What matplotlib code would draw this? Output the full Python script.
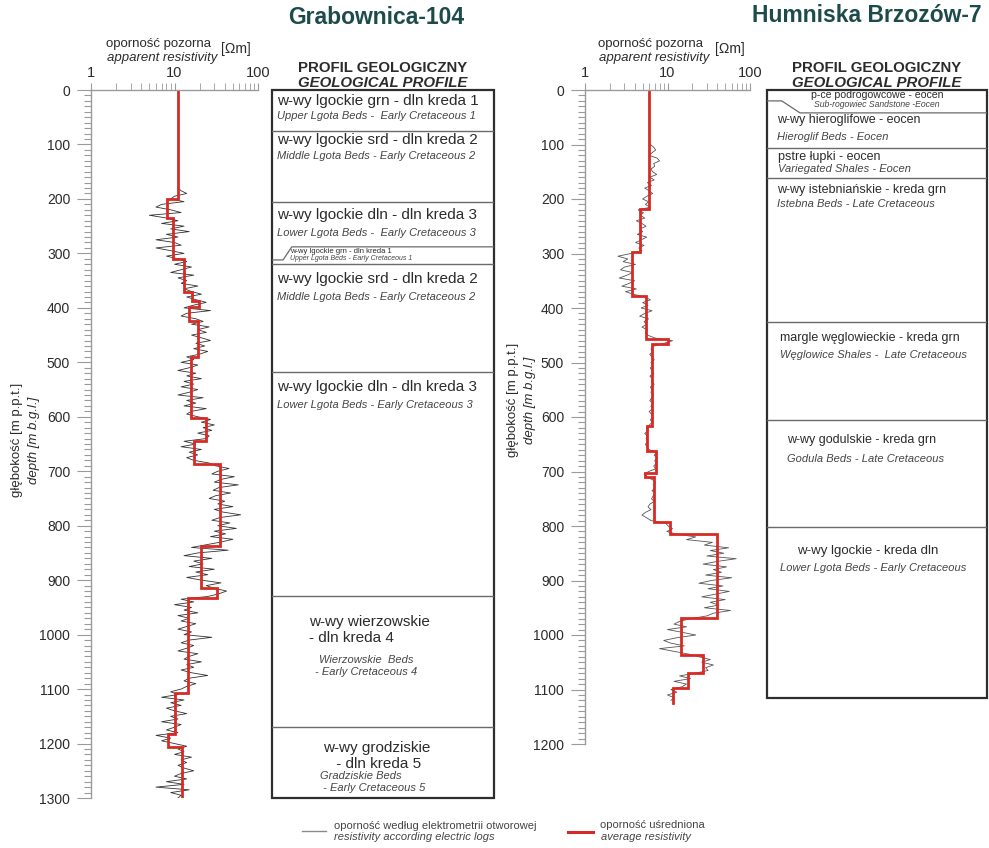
import numpy as np
import matplotlib
matplotlib.use("Agg")
import matplotlib.pyplot as plt
from matplotlib.ticker import LogLocator, NullFormatter, MultipleLocator
from matplotlib.patches import Rectangle

plt.rcParams['font.family'] = ['Liberation Sans', 'DejaVu Sans']

# ---- dane: Grabownica-104 ----
g_depth = np.arange(180, 1301, 5)
g_log = [11, 12, 14, 10, 9, 13, 7, 6, 9, 12,
         5, 8, 11, 7, 13, 9, 15, 8, 11, 6,
         10, 12, 6, 9, 13, 8, 11, 14, 10, 16,
         12, 9, 17, 11, 14, 12, 19, 13, 16, 21,
         14, 18, 24, 17, 13, 27, 14, 12, 18, 22,
         16, 26, 19, 24, 16, 21, 27, 18, 23, 17,
         25, 20, 14, 17, 12, 19, 15, 11, 18, 14,
         21, 13, 17, 12, 19, 15, 11, 22, 14, 18,
         13, 24, 16, 14, 19, 27, 21, 30, 22, 28,
         19, 26, 24, 13, 18, 12, 21, 15, 19, 14,
         17, 26, 31, 45, 33, 28, 52, 36, 30, 58,
         34, 29, 47, 31, 26, 40, 33, 50, 30, 38,
         62, 35, 28, 46, 33, 55, 30, 41, 27, 50,
         36, 24, 16, 44, 19, 13, 28, 17, 22, 15,
         30, 18, 25, 14, 21, 36, 24, 30, 42, 34,
         25, 12, 17, 10, 16, 13, 19, 11, 15, 12,
         18, 14, 11, 16, 13, 28, 15, 12, 17, 14,
         11, 19, 15, 13, 21, 14, 17, 12, 16, 25,
         15, 13, 18, 14, 12, 9, 11, 7, 13, 9,
         12, 8, 10, 14, 9, 11, 7, 12, 10, 8,
         11, 6, 9, 7, 10, 14, 11, 13, 10, 16,
         12, 14, 11, 13, 17, 12, 10, 14, 8, 13,
         6, 15, 9, 12, 11]
g_avg_top = [0, 200, 235, 311, 370, 387, 398, 425, 491, 603, 644, 687,
             837, 915, 932, 1108, 1183, 1206]
g_avg_val = [10.9, 8.2, 9.7, 13.1, 16.3, 19.6, 15.0, 19.1, 15.8, 23.6, 17.3,
             35.0, 20.6, 32.0, 14.6, 10.1, 8.4, 12.2]
g_avg_bottom = 1298
g_bounds = [75, 205, 320, 517, 930, 1169]
g_main = ["w-wy lgockie grn - dln kreda 1", "w-wy lgockie srd - dln kreda 2",
          "w-wy lgockie dln - dln kreda 3", "w-wy lgockie grn - dln kreda 1",
          "w-wy lgockie srd - dln kreda 2", "w-wy lgockie dln - dln kreda 3",
          "w-wy wierzowskie\n- dln kreda 4", "w-wy grodziskie\n - dln kreda 5"]
g_sub = ["Upper Lgota Beds -  Early Cretaceous 1", "Middle Lgota Beds - Early Cretaceous 2",
         "Lower Lgota Beds -  Early Cretaceous 3", "Upper Lgota Beds - Early Cretaceous 1",
         "Middle Lgota Beds - Early Cretaceous 2", "Lower Lgota Beds - Early Cretaceous 3",
         "Wierzowskie  Beds\n- Early Cretaceous 4", "Gradziskie Beds\n - Early Cretaceous 5"]

# ---- dane: Humniska Brzozów-7 ----
h_depth = np.arange(100, 1121, 5)
h_log = [6.2, 6.8, 7.2, 6.5, 6.0, 7.5, 8.0, 6.8, 7.0, 6.3,
         6.6, 7.4, 6.1, 6.9, 5.7, 6.4, 5.3, 6.0, 6.6, 5.6,
         5.0, 5.9, 5.4, 6.2, 4.4, 5.1, 4.7, 5.3, 4.2, 4.9,
         5.5, 4.6, 5.0, 4.3, 5.6, 4.8, 4.1, 5.2, 4.5, 4.9,
         3.6, 2.5, 3.3, 2.9, 4.1, 3.0, 2.7, 3.8, 3.2, 2.6,
         4.0, 3.4, 2.8, 4.2, 3.1, 3.9, 5.4, 6.2, 5.0, 5.8,
         4.8, 6.5, 5.3, 4.6, 5.9, 5.2, 5.6, 4.9, 5.7, 5.4,
         5.8, 7.0, 11.5, 9.0, 6.8, 6.3, 6.6, 6.1, 6.5, 6.9,
         6.3, 6.7, 6.2, 6.5, 6.8, 6.1, 6.6, 6.4, 6.9, 6.2,
         6.5, 6.3, 6.8, 6.4, 6.1, 6.7, 6.3, 6.6, 6.0, 6.4,
         6.7, 6.2, 6.5, 6.0, 5.6, 5.9, 5.3, 5.7, 5.5, 5.8,
         5.4, 5.7, 6.0, 7.4, 6.9, 7.6, 7.0, 7.3, 6.8, 7.2,
         5.9, 5.2, 5.5, 6.6, 7.2, 6.8, 7.1, 6.5, 7.0, 6.7,
         6.4, 6.9, 6.1, 5.8, 6.3, 5.4, 4.9, 5.6, 6.3, 9.5,
         10.2, 11.5, 9.8, 13, 22, 17, 35, 28, 55, 33,
         48, 30, 68, 40, 27, 52, 36, 45, 29, 60,
         34, 24, 47, 31, 56, 38, 26, 50, 33, 42,
         28, 58, 36, 30, 19, 14, 12, 17, 10, 15,
         22, 13, 9, 11, 16, 8, 12, 18, 24, 33,
         26, 36, 29, 31, 22, 14, 19, 12, 17, 15,
         11, 13, 10, 12, 11]
h_avg_top = [0, 219, 298, 378, 456, 466, 617, 662, 702, 711, 792, 815,
             969, 1037, 1070, 1098]
h_avg_val = [6.0, 4.6, 3.7, 5.5, 10.1, 6.4, 5.6, 7.2, 5.3, 6.9, 10.6, 39.7,
             14.6, 27.2, 17.9, 11.6]
h_avg_bottom = 1125
h_bounds = [107, 162, 425, 605, 802]
h_box_bottom = 1115
h_main = ["p-ce podrogowcowe - eocen", "w-wy hieroglifowe - eocen",
          "pstre łupki - eocen", "w-wy istebniańskie - kreda grn",
          "margle węglowieckie - kreda grn", "w-wy godulskie - kreda grn",
          "w-wy lgockie - kreda dln"]
h_sub = ["Sub-rogowiec Sandstone -Eocen", "Hieroglif Beds - Eocen",
         "Variegated Shales - Eocen", "Istebna Beds - Late Cretaceous",
         "Węglowice Shales -  Late Cretaceous", "Godula Beds - Late Cretaceous",
         "Lower Lgota Beds - Early Cretaceous"]

# ---- układ ----
W, H = 989, 848
fig = plt.figure(figsize=(W / 100, H / 100), dpi=100)
TXT = '#2b2b2b'
AX = '#9a9a9a'
TEAL = '#1d4b4c'
RED = '#d82a25'


def rect(x0, y0, x1, y1):
    return [x0 / W, 1 - y1 / H, (x1 - x0) / W, (y1 - y0) / H]


def ftext(x, y, s, **kw):
    fig.text(x / W, 1 - y / H, s, **kw)


def steps(tops, vals, bottom):
    b = list(tops) + [bottom]
    xs, ys = [], []
    for i, v in enumerate(vals):
        xs += [v, v]
        ys += [b[i], b[i + 1]]
    return xs, ys


def log_axes(r, dmax):
    ax = fig.add_axes(r)
    ax.patch.set_alpha(0)
    ax.set_xscale('log')
    ax.set_xlim(1, 100)
    ax.set_ylim(dmax, 0)
    ax.spines['right'].set_visible(False)
    ax.spines['bottom'].set_visible(False)
    for s in ['left', 'top']:
        ax.spines[s].set_color(AX)
        ax.spines[s].set_linewidth(1.0)
    ax.xaxis.tick_top()
    ax.set_xticks([1, 10, 100])
    ax.set_xticklabels(['1', '10', '100'])
    ax.xaxis.set_minor_locator(LogLocator(base=10, subs=range(2, 10)))
    ax.xaxis.set_minor_formatter(NullFormatter())
    ax.tick_params(axis='x', which='major', length=5, color=AX, pad=2,
                   labelsize=10.5, labelcolor=TXT)
    ax.tick_params(axis='x', which='minor', length=5, color=AX)
    ax.set_yticks(np.arange(0, dmax + 1, 100))
    ax.yaxis.set_minor_locator(MultipleLocator(10))
    ax.tick_params(axis='y', which='major', length=10, color=AX, pad=5,
                   labelsize=10, labelcolor=TXT)
    ax.tick_params(axis='y', which='minor', length=5, color=AX, width=0.8)
    return ax


def profile_axes(r, dmax):
    ax = fig.add_axes(r)
    ax.set_xlim(0, 1)
    ax.set_ylim(dmax, 0)
    ax.axis('off')
    return ax


# ---- Grabownica-104 ----
ax1 = log_axes(rect(91, 90, 258, 798), 1300)
ax1.plot(g_log, g_depth, color='#333333', lw=0.6)
xs, ys = steps(g_avg_top, g_avg_val, g_avg_bottom)
ax1.plot(xs, ys, color=RED, lw=2.0, solid_joinstyle='miter')

p1 = profile_axes(rect(272, 90, 494, 798), 1300)
for d in g_bounds:
    p1.plot([0, 1], [d, d], color='#6a6a6a', lw=1.0)
# klin cienkiej warstwy
p1.plot([0, 0.05, 0.089, 1], [312, 312, 288, 288], color='#6a6a6a', lw=0.9)
p1.add_patch(Rectangle((0, 0), 1, 1, transform=p1.transAxes, fill=False,
                       ec='#2e2e2e', lw=1.6, clip_on=False))

g_main_pos = [(0.022, 20, 11), (0.022, 92, 11), (0.022, 229, 11), (0.08, 296, 5.5),
              (0.022, 347, 11), (0.022, 545, 11), (0.165, 992, 11), (0.47, 1223, 11)]
g_sub_pos = [(0.022, 48, 8), (0.022, 121, 8), (0.022, 262, 8), (0.08, 309, 5),
             (0.022, 380, 8), (0.022, 578, 8), (0.425, 1058, 8), (0.216, 1271, 8)]
g_main_ha = ['left'] * 7 + ['center']
g_sub_ha = ['left'] * 6 + ['center', 'left']
for s, (x, y, fs), ha in zip(g_main, g_main_pos, g_main_ha):
    p1.text(x, y, s, fontsize=fs, color=TXT, ha=ha, va='center', multialignment=ha)
for s, (x, y, fs), ha in zip(g_sub, g_sub_pos, g_sub_ha):
    p1.text(x, y, s, fontsize=fs, color='#444444', style='italic', ha=ha,
            va='center', multialignment=ha)

# ---- Humniska Brzozów-7 ----
ax2 = log_axes(rect(585, 90, 750, 744), 1200)
ax2.plot(h_log, h_depth, color='#555555', lw=0.6)
xs, ys = steps(h_avg_top, h_avg_val, h_avg_bottom)
ax2.plot(xs, ys, color=RED, lw=2.0, solid_joinstyle='miter')

p2 = profile_axes(rect(767, 90, 987, 744), 1200)
for d in h_bounds:
    p2.plot([0, 1], [d, d], color='#6a6a6a', lw=1.0)
p2.plot([0, 0.067, 0.15, 1], [20, 20, 42, 42], color='#6a6a6a', lw=0.9)
p2.add_patch(Rectangle((0, 0), 1, h_box_bottom, fill=False,
                       ec='#2e2e2e', lw=1.6, clip_on=False))

h_main_pos = [(0.5, 9, 7.6), (0.045, 55, 9), (0.05, 123, 9), (0.045, 183, 9),
              (0.06, 455, 9), (0.09, 642, 9), (0.135, 846, 9.5)]
h_sub_pos = [(0.5, 27, 6.2), (0.045, 86, 8), (0.05, 145, 8), (0.045, 209, 8),
             (0.06, 486, 8), (0.09, 677, 8), (0.06, 877, 8)]
h_ha = ['center'] + ['left'] * 6
for s, (x, y, fs), ha in zip(h_main, h_main_pos, h_ha):
    p2.text(x, y, s, fontsize=fs, color=TXT, ha=ha, va='center')
for s, (x, y, fs), ha in zip(h_sub, h_sub_pos, h_ha):
    p2.text(x, y, s, fontsize=fs, color='#444444', style='italic', ha=ha, va='center')

# ---- tytuły i opisy ----
ftext(376, 17, "Grabownica-104", fontsize=16.5, fontweight='bold', color=TEAL,
      ha='center', va='center')
ftext(867, 15, "Humniska Brzozów-7", fontsize=16.5, fontweight='bold', color=TEAL,
      ha='center', va='center')
for cx in (383, 877):
    ftext(cx, 68, "PROFIL GEOLOGICZNY", fontsize=10.8, fontweight='bold', color=TXT,
          ha='center', va='center')
    ftext(cx, 83, "GEOLOGICAL PROFILE", fontsize=10.8, fontweight='bold',
          style='italic', color=TXT, ha='center', va='center')

for cx, ux in ((158, 236), (650, 730)):
    ftext(cx, 44, "oporność pozorna", fontsize=9.5, color=TXT, ha='center', va='center')
    ftext(cx + 4, 58, "apparent resistivity", fontsize=9.5, style='italic',
          color=TXT, ha='center', va='center')
    ftext(ux, 49, "[Ωm]", fontsize=10, color=TXT, ha='center', va='center')

for (x1, x2, yc) in ((17, 34, 440), (513, 530, 400)):
    ftext(x1, yc, "głębokość [m p.p.t.]", fontsize=9.5, color=TXT, rotation=90,
          ha='center', va='center')
    ftext(x2, yc, "depth [m b.g.l.]", fontsize=9.5, color=TXT, rotation=90,
          style='italic', ha='center', va='center')

# ---- legenda ----
lg = fig.add_axes([0, 0, 1, 1])
lg.set_xlim(0, W)
lg.set_ylim(H, 0)
lg.axis('off')
lg.plot([302, 326], [831, 831], color='#8a8a8a', lw=1.0)
lg.plot([568, 593], [832, 832], color=RED, lw=2.2)
lg.text(334, 826, "oporność według elektrometrii otworowej", fontsize=8,
        color='#444444', va='center')
lg.text(334, 837, "resistivity according electric logs", fontsize=8,
        color='#444444', style='italic', va='center')
lg.text(600, 825, "oporność uśredniona", fontsize=8, color='#444444', va='center')
lg.text(601, 837, "average resistivity", fontsize=8, color='#444444',
        style='italic', va='center')

fig.savefig('out.png', dpi=100)
